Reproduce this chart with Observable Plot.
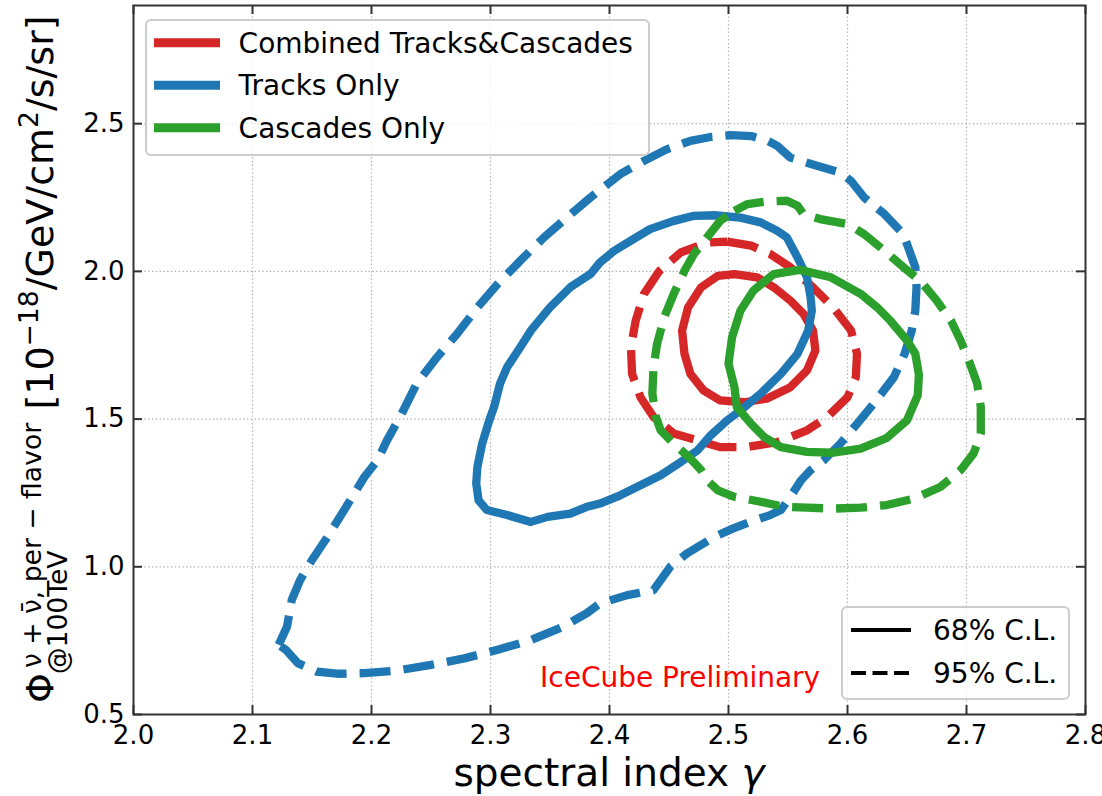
<!DOCTYPE html>
<html>
<head>
<meta charset="utf-8">
<script src="https://cdn.jsdelivr.net/npm/d3@7"></script>
<script src="https://cdn.jsdelivr.net/npm/@observablehq/plot@0.6"></script>
<style>
  html, body { margin: 0; padding: 0; background: #fff; }
  #chart { width: 1102px; height: 796px; }
  svg { font-family: "DejaVu Sans"; }
</style>
</head>
<body>
<div id="chart"></div>
<script>
// ---------- data ----------
const combined68 = [[2.505,1.991],[2.524,1.980],[2.538,1.946],[2.552,1.901],[2.563,1.856],[2.571,1.800],[2.573,1.732],[2.566,1.665],[2.552,1.608],[2.532,1.569],[2.513,1.557],[2.493,1.563],[2.479,1.597],[2.468,1.653],[2.463,1.721],[2.461,1.800],[2.466,1.878],[2.477,1.946],[2.491,1.985],[2.505,1.991]];
const combined95 = [[2.499,2.101],[2.519,2.087],[2.535,2.059],[2.552,2.014],[2.571,1.946],[2.588,1.878],[2.603,1.800],[2.608,1.721],[2.607,1.642],[2.600,1.574],[2.583,1.507],[2.566,1.462],[2.541,1.422],[2.515,1.405],[2.493,1.405],[2.474,1.428],[2.454,1.451],[2.437,1.507],[2.426,1.574],[2.419,1.653],[2.418,1.743],[2.422,1.833],[2.429,1.924],[2.442,2.002],[2.460,2.064],[2.482,2.098],[2.499,2.101]];
const tracks68 = [[2.288,1.282],[2.289,1.338],[2.293,1.417],[2.299,1.496],[2.303,1.541],[2.308,1.620],[2.314,1.676],[2.325,1.743],[2.334,1.800],[2.350,1.878],[2.367,1.946],[2.384,1.991],[2.392,2.030],[2.404,2.070],[2.418,2.104],[2.434,2.143],[2.454,2.171],[2.471,2.188],[2.488,2.190],[2.510,2.182],[2.527,2.166],[2.541,2.137],[2.549,2.115],[2.558,2.047],[2.566,1.980],[2.569,1.912],[2.570,1.867],[2.567,1.800],[2.558,1.721],[2.544,1.653],[2.527,1.586],[2.510,1.529],[2.499,1.496],[2.485,1.445],[2.474,1.394],[2.460,1.355],[2.443,1.310],[2.426,1.276],[2.409,1.242],[2.392,1.214],[2.381,1.203],[2.367,1.180],[2.348,1.169],[2.334,1.152],[2.314,1.175],[2.297,1.192],[2.290,1.225],[2.288,1.282]];
const tracks95 = [[2.122,0.736],[2.129,0.797],[2.133,0.888],[2.140,0.955],[2.150,1.023],[2.163,1.101],[2.177,1.192],[2.194,1.304],[2.205,1.360],[2.213,1.428],[2.224,1.507],[2.238,1.620],[2.255,1.709],[2.272,1.789],[2.289,1.878],[2.306,1.957],[2.325,2.036],[2.345,2.115],[2.364,2.182],[2.384,2.250],[2.409,2.329],[2.429,2.374],[2.448,2.413],[2.468,2.442],[2.485,2.455],[2.502,2.461],[2.519,2.458],[2.532,2.444],[2.541,2.425],[2.552,2.385],[2.575,2.357],[2.594,2.334],[2.603,2.306],[2.614,2.250],[2.631,2.194],[2.647,2.126],[2.652,2.070],[2.657,2.014],[2.658,1.946],[2.657,1.867],[2.654,1.800],[2.648,1.721],[2.639,1.642],[2.622,1.552],[2.608,1.484],[2.594,1.417],[2.580,1.360],[2.569,1.327],[2.561,1.293],[2.552,1.237],[2.544,1.192],[2.535,1.175],[2.518,1.152],[2.504,1.130],[2.488,1.101],[2.465,1.045],[2.451,1.000],[2.437,0.921],[2.415,0.904],[2.392,0.876],[2.381,0.843],[2.361,0.797],[2.334,0.752],[2.306,0.719],[2.278,0.690],[2.250,0.668],[2.222,0.649],[2.194,0.640],[2.171,0.638],[2.154,0.645],[2.138,0.674],[2.128,0.719],[2.122,0.736]];
const cascades68 = [[2.560,2.005],[2.586,1.980],[2.611,1.924],[2.625,1.878],[2.636,1.833],[2.650,1.766],[2.657,1.721],[2.660,1.650],[2.659,1.580],[2.650,1.496],[2.633,1.436],[2.611,1.400],[2.588,1.386],[2.566,1.389],[2.544,1.405],[2.530,1.439],[2.519,1.484],[2.507,1.541],[2.505,1.608],[2.500,1.687],[2.503,1.777],[2.510,1.867],[2.521,1.935],[2.538,1.991],[2.560,2.005]];
const cascades95 = [[2.505,2.205],[2.516,2.228],[2.530,2.236],[2.549,2.239],[2.558,2.222],[2.563,2.194],[2.577,2.177],[2.600,2.160],[2.614,2.126],[2.631,2.070],[2.647,2.014],[2.661,1.969],[2.675,1.901],[2.687,1.833],[2.695,1.766],[2.702,1.698],[2.709,1.620],[2.712,1.541],[2.712,1.451],[2.706,1.384],[2.695,1.327],[2.678,1.270],[2.656,1.231],[2.633,1.209],[2.611,1.200],[2.588,1.197],[2.566,1.200],[2.547,1.203],[2.527,1.220],[2.505,1.237],[2.491,1.259],[2.482,1.293],[2.477,1.327],[2.468,1.366],[2.454,1.417],[2.443,1.462],[2.439,1.507],[2.436,1.586],[2.437,1.676],[2.440,1.755],[2.446,1.845],[2.454,1.924],[2.463,2.002],[2.471,2.059],[2.482,2.115],[2.493,2.171],[2.505,2.205]];

const xTicks = [2.0, 2.1, 2.2, 2.3, 2.4, 2.5, 2.6, 2.7, 2.8];
const yTicks = [0.5, 1.0, 1.5, 2.0, 2.5];
const seriesNames = ["Combined Tracks&Cascades", "Tracks Only", "Cascades Only"];
const seriesColors = ["#d62728", "#1f77b4", "#2ca02c"];
const levelNames = ["68% C.L.", "95% C.L."];
const xLabel = "spectral index";
const xLabelSymbol = "γ";
const annotation = "IceCube Preliminary";

// ---------- layout ----------
const W = 1102, H = 796;
const mL = 133, mT = 5, mR = 17, mB = 82;
const innerW = W - mL - mR, innerH = H - mT - mB;
const tickLen = 9;
const dash = "31,13";
const fmt = d3.format(".1f");

const contour = (data, color, dashed) => Plot.line(data, {
  x: d => d[0], y: d => d[1],
  stroke: color, strokeWidth: 8.3,
  strokeDasharray: dashed ? dash : undefined,
  strokeLinejoin: "round",
  strokeLinecap: dashed ? "butt" : "round",
  curve: "linear"
});

const node = Plot.plot({
  width: W, height: H,
  marginLeft: mL, marginTop: mT, marginRight: mR, marginBottom: mB,
  x: {domain: [2.0, 2.8]},
  y: {domain: [0.5, 2.9]},
  style: {fontFamily: "DejaVu Sans", color: "#000", background: "#fff", overflow: "visible"},
  marks: [
    Plot.gridX(xTicks, {stroke: "#b0b0b0", strokeOpacity: 1, strokeWidth: 1.2, strokeDasharray: "1.4,2.4"}),
    Plot.gridY(yTicks, {stroke: "#b0b0b0", strokeOpacity: 1, strokeWidth: 1.2, strokeDasharray: "1.4,2.4"}),
    contour(combined95, seriesColors[0], true),
    contour(combined68, seriesColors[0], false),
    contour(tracks95, seriesColors[1], true),
    contour(tracks68, seriesColors[1], false),
    contour(cascades95, seriesColors[2], true),
    contour(cascades68, seriesColors[2], false),
    Plot.tickX(xTicks, {x: d => d, insetTop: innerH - tickLen, stroke: "#333", strokeWidth: 2}),
    Plot.tickX(xTicks, {x: d => d, insetBottom: innerH - tickLen, stroke: "#333", strokeWidth: 2}),
    Plot.tickY(yTicks, {y: d => d, insetRight: innerW - tickLen, stroke: "#333", strokeWidth: 2}),
    Plot.tickY(yTicks, {y: d => d, insetLeft: innerW - tickLen, stroke: "#333", strokeWidth: 2}),
    Plot.frame({stroke: "#333", strokeWidth: 2}),
    Plot.axisX(xTicks, {anchor: "bottom", tickSize: 0, tickPadding: 11.5, fontSize: 26, tickFormat: fmt, label: null}),
    Plot.axisY(yTicks, {anchor: "left", tickSize: 0, tickPadding: 9, fontSize: 26, tickFormat: fmt, label: null})
  ]
});
document.getElementById("chart").append(node);
const svg = d3.select(node);

// ---------- x label ----------
const xl = svg.append("text")
  .attr("x", 609).attr("y", 786)
  .attr("text-anchor", "middle")
  .attr("font-size", 39).attr("fill", "#000");
xl.append("tspan").text(xLabel + "\u00a0");
xl.append("tspan").attr("font-style", "italic").text(xLabelSymbol);

// ---------- y label (rotated, with super/subscripts) ----------
const mainSize = 38, scrSize = 26.6;
const yl = svg.append("g")
  .attr("transform", "translate(53,703) rotate(-90)")
  .attr("text-anchor", "start")
  .attr("fill", "#000");
let cursor = 0;
function piece(text, size, shift, x) {
  const t = yl.append("text").attr("x", x).attr("y", shift)
    .attr("text-anchor", "start").attr("font-size", size).text(text);
  return t.node().getComputedTextLength();
}
const wPhi = piece("Φ", mainSize, 0, 0);
const wSub = piece("@100TeV", scrSize, 13.5, wPhi - 1);
const wSup = piece("ν + ν\u0304, per \u2212 flavor", scrSize, -12, wPhi + 5);
cursor = Math.max(wPhi - 1 + wSub, wPhi + 5 + wSup) + 0.35 * mainSize;
cursor += piece("[10", mainSize, 0, cursor);
cursor += piece("\u221218", scrSize, -15, cursor);
cursor += piece("/GeV/cm", mainSize, 0, cursor);
cursor += piece("2", scrSize, -15, cursor);
cursor += piece("/s/sr]", mainSize, 0, cursor);

// ---------- annotation ----------
svg.append("text")
  .attr("x", 540).attr("y", 687)
  .attr("text-anchor", "start")
  .attr("font-size", 28).attr("fill", "#ff0000")
  .text(annotation);

// ---------- legend: series ----------
const lg1 = svg.append("g").attr("text-anchor", "start");
lg1.append("rect").attr("x", 146).attr("y", 20).attr("width", 503).attr("height", 135)
  .attr("rx", 5).attr("fill", "#fff").attr("fill-opacity", 0.8)
  .attr("stroke", "#cccccc").attr("stroke-width", 2);
seriesNames.forEach((name, i) => {
  const y = 42.7 + i * 42.5;
  lg1.append("line").attr("x1", 154).attr("x2", 220).attr("y1", y).attr("y2", y)
    .attr("stroke", seriesColors[i]).attr("stroke-width", 9);
  lg1.append("text").attr("x", 238.6).attr("y", y + 10).attr("text-anchor", "start")
    .attr("font-size", 28).attr("fill", "#000").text(name);
});

// ---------- legend: confidence levels ----------
const lg2 = svg.append("g").attr("text-anchor", "start");
lg2.append("rect").attr("x", 842).attr("y", 607).attr("width", 227).attr("height", 92)
  .attr("rx", 5).attr("fill", "#fff").attr("fill-opacity", 0.8)
  .attr("stroke", "#cccccc").attr("stroke-width", 2);
levelNames.forEach((name, i) => {
  const y = 630 + i * 43;
  lg2.append("line").attr("x1", 851).attr("x2", 911).attr("y1", y).attr("y2", y)
    .attr("stroke", "#000").attr("stroke-width", 4)
    .attr("stroke-dasharray", i === 1 ? "15,6.5" : null);
  lg2.append("text").attr("x", 933).attr("y", y + 10).attr("text-anchor", "start")
    .attr("font-size", 28).attr("fill", "#000").text(name);
});
</script>
</body>
</html>
